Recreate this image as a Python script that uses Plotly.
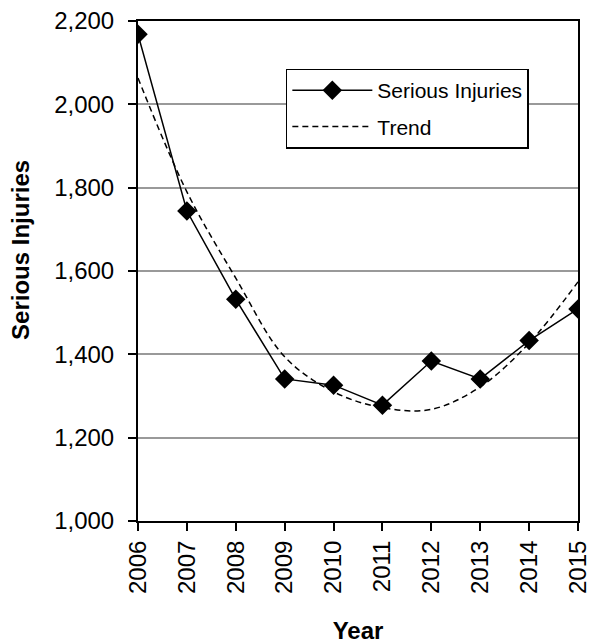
import plotly.graph_objects as go

years = [2006, 2007, 2008, 2009, 2010, 2011, 2012, 2013, 2014, 2015]
serious_injuries = [2168, 1744, 1532, 1341, 1326, 1278, 1384, 1341, 1433, 1509]
trend = [2063, 1790, 1583, 1394, 1310, 1272, 1268, 1322, 1427, 1574]
y_ticks = [1000, 1200, 1400, 1600, 1800, 2000, 2200]
y_tick_labels = ["1,000", "1,200", "1,400", "1,600", "1,800", "2,000", "2,200"]

FONT = "Liberation Sans, Arial, sans-serif"

fig = go.Figure()
fig.add_trace(go.Scatter(
    x=years, y=serious_injuries, name="Serious Injuries", mode="lines+markers",
    line=dict(color="black", width=1.5),
    marker=dict(symbol="diamond", size=15, color="black"),
    legendgroup="a",
))
fig.add_trace(go.Scatter(
    x=years, y=trend, name="Trend", mode="lines",
    line=dict(color="black", width=1.5, dash="6px,4px", shape="spline", smoothing=1.0),
    legendgroup="b",
))

fig.update_layout(
    width=591, height=644,
    margin=dict(l=138, r=13, t=21, b=123),
    paper_bgcolor="white", plot_bgcolor="white",
    font=dict(family=FONT, size=24, color="black"),
    showlegend=True,
    legend=dict(
        x=0.336, y=0.905, xanchor="left", yanchor="top",
        bgcolor="white", bordercolor="black", borderwidth=1.5,
        font=dict(family=FONT, size=21, color="black"),
        itemwidth=80, tracegroupgap=6,
    ),
    xaxis=dict(
        range=[2006, 2015], tickmode="array", tickvals=years,
        ticktext=[str(y) for y in years], tickangle=-90,
        ticks="outside", ticklen=8, tickwidth=1.5, tickcolor="black",
        showline=True, linecolor="black", linewidth=2, mirror=True,
        showgrid=False, zeroline=False, automargin=False,
        title=dict(text="<b>Year</b>", font=dict(size=24), standoff=31),
    ),
    yaxis=dict(
        range=[1000, 2200], tickmode="array", tickvals=y_ticks, ticktext=y_tick_labels,
        ticks="outside", ticklen=8, tickwidth=1.5, tickcolor="black",
        showline=True, linecolor="black", linewidth=2, mirror=True,
        showgrid=True, gridcolor="#999999", gridwidth=1.5, zeroline=False,
        automargin=False, ticklabelstandoff=9,
    ),
    annotations=[dict(
        text="<b>Serious Injuries</b>", textangle=-90, xref="paper", yref="paper",
        x=-0.266, y=0.542, xanchor="center", yanchor="middle", showarrow=False,
        font=dict(family=FONT, size=24, color="black"),
    )],
)

fig.write_html(
    "out.html",
    config={"displayModeBar": False},
    post_script="document.body.style.margin='0';document.body.style.overflow='hidden';",
)
